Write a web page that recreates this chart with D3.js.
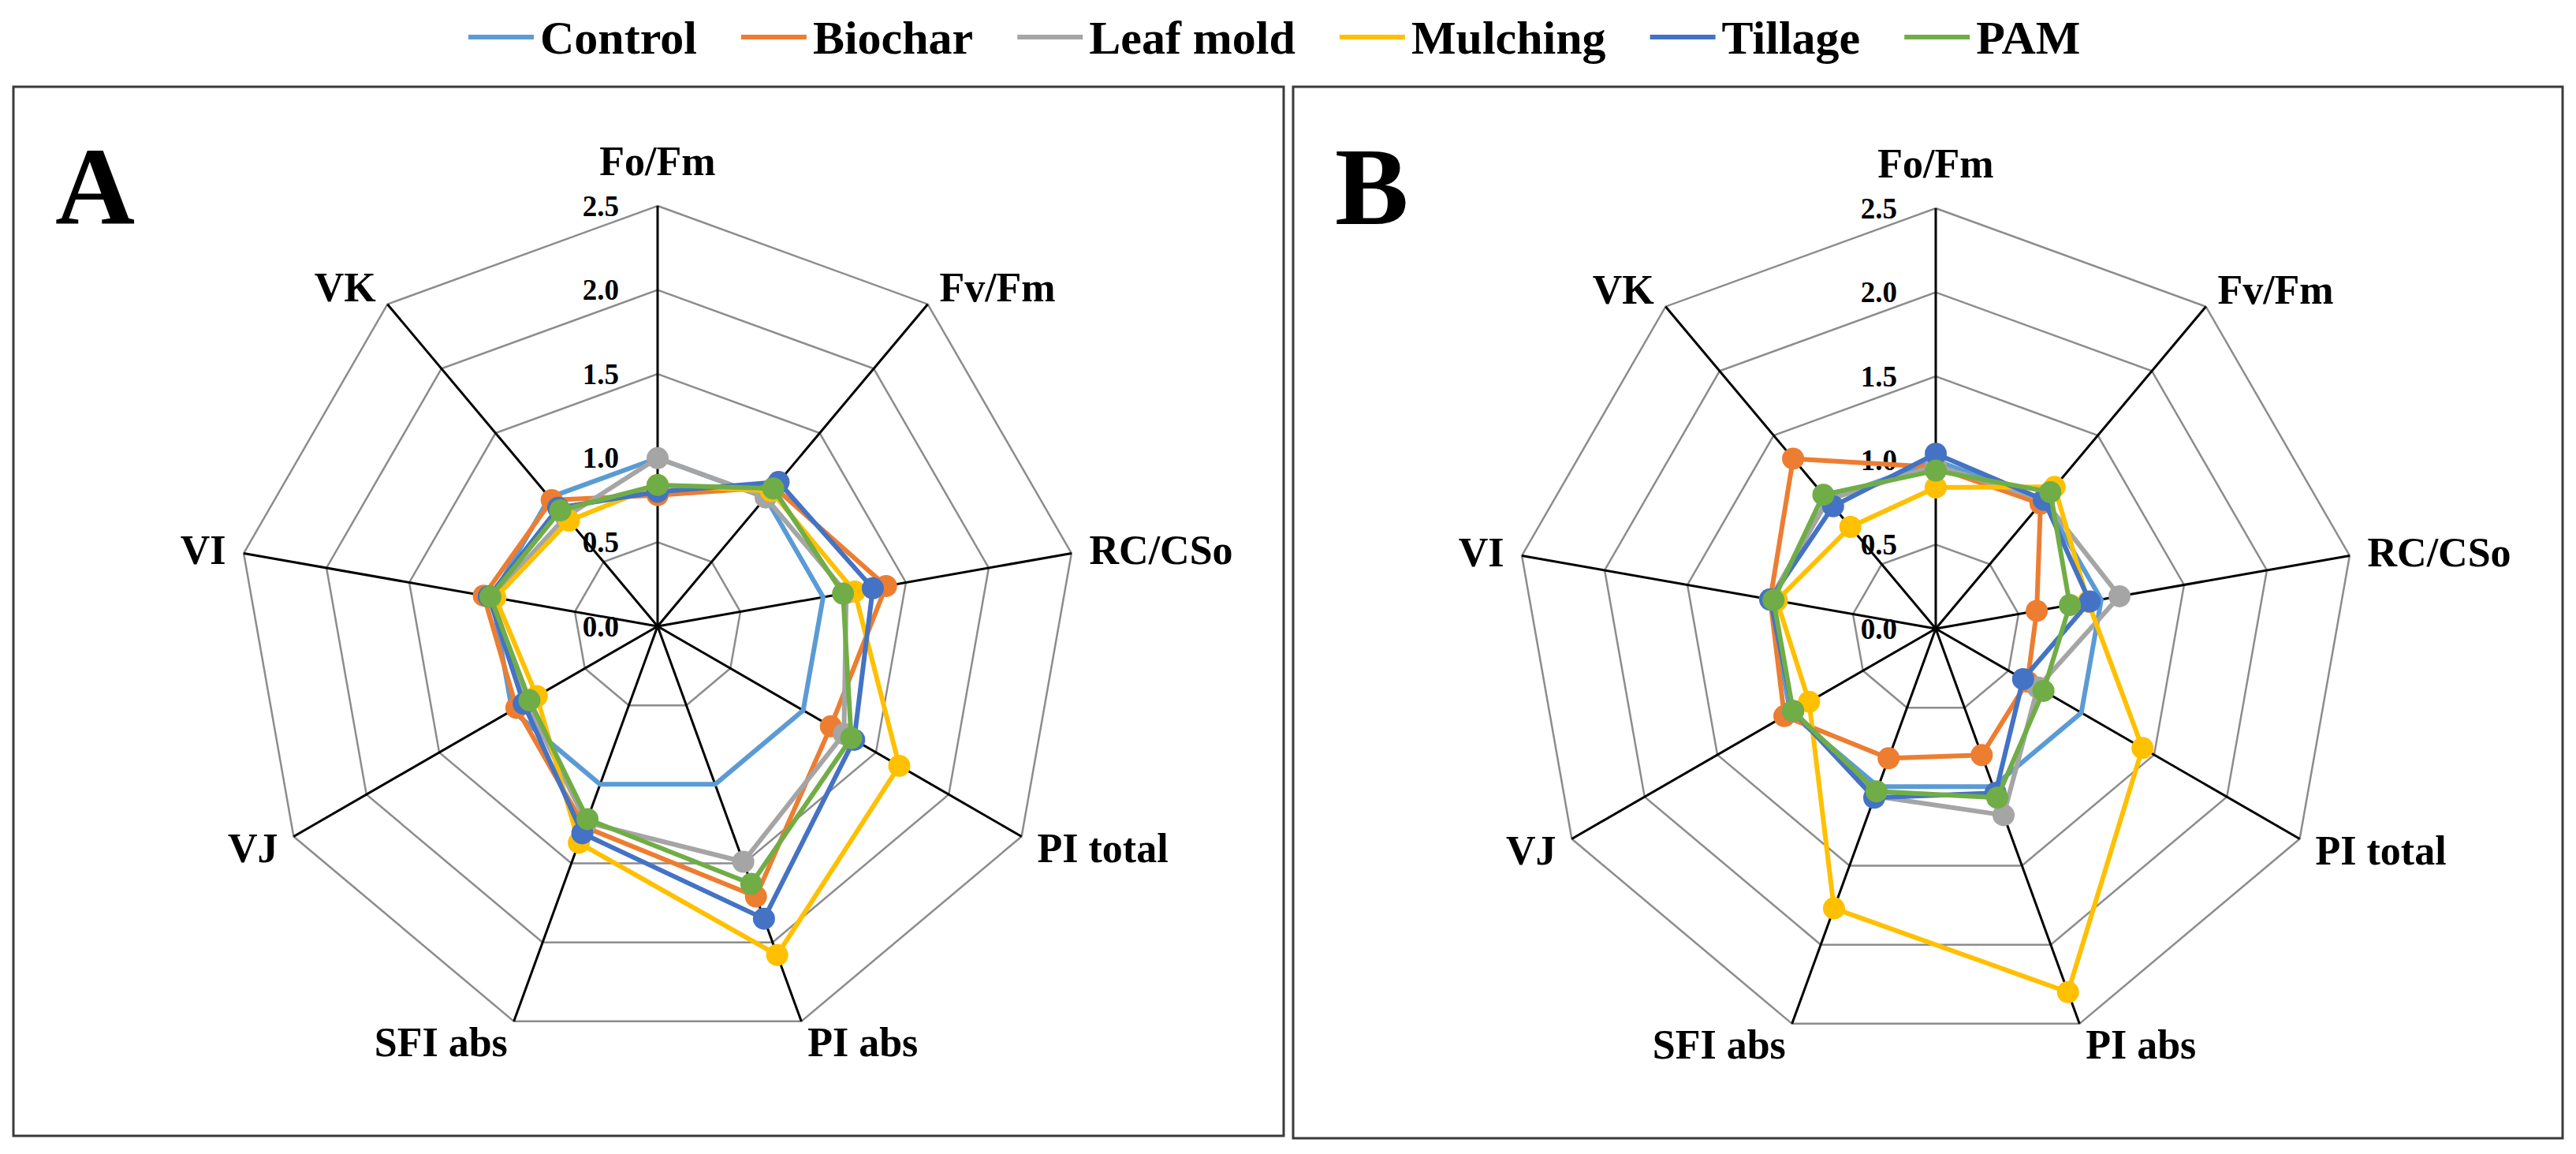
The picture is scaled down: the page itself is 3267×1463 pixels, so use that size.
<!DOCTYPE html>
<html>
<head>
<meta charset="utf-8">
<script src="https://cdn.jsdelivr.net/npm/d3@7"></script>
<style>
  html, body { margin: 0; padding: 0; background: #fff; }
  svg { display: block; }
  text { font-family: "Liberation Serif", "Times New Roman", serif; font-weight: bold; fill: #000; }
</style>
</head>
<body>
<svg id="chart" width="3267" height="1463"></svg>
<script>
// ---------- data ----------
const axes = ["Fo/Fm", "Fv/Fm", "RC/CSo", "PI total", "PI abs", "SFI abs", "VJ", "VI", "VK"];
const seriesNames = ["Control", "Biochar", "Leaf mold", "Mulching", "Tillage", "PAM"];
const seriesColors = ["#5B9BD5", "#ED7D31", "#A5A5A5", "#FFC000", "#4472C4", "#70AD47"];
const tickValues = [0, 0.5, 1.0, 1.5, 2.0, 2.5];
const tickLabels = ["0.0", "0.5", "1.0", "1.5", "2.0", "2.5"];

// Panel A
const controlA  = [1.00, 1.00, 1.00, 1.00, 1.00, 1.00, 1.00, 1.00, 1.00];
const biocharA  = [0.78, 1.08, 1.38, 1.19, 1.71, 1.27, 0.97, 1.05, 0.98];
const leafmoldA = [1.00, 1.00, 1.14, 1.28, 1.49, 1.24, 0.90, 1.00, 0.85];
const mulchingA = [0.84, 1.05, 1.19, 1.66, 2.08, 1.37, 0.83, 0.98, 0.82];
const tillageA  = [0.80, 1.12, 1.30, 1.35, 1.85, 1.31, 0.92, 1.02, 0.92];
const pamA      = [0.84, 1.07, 1.12, 1.33, 1.63, 1.22, 0.88, 1.01, 0.90];

// Panel B
const controlB  = [1.00, 1.00, 1.00, 1.00, 1.00, 1.00, 1.00, 1.00, 1.00];
const biocharB  = [0.96, 0.97, 0.61, 0.63, 0.80, 0.82, 1.04, 1.00, 1.32];
const leafmoldB = [0.97, 1.00, 1.11, 0.70, 1.18, 1.06, 0.98, 1.00, 1.00];
const mulchingB = [0.84, 1.10, 0.92, 1.42, 2.30, 1.77, 0.87, 0.96, 0.79];
const tillageB  = [1.04, 1.00, 0.93, 0.60, 1.04, 1.07, 0.98, 1.00, 0.95];
const pamB      = [0.94, 1.06, 0.81, 0.74, 1.07, 1.03, 0.98, 0.98, 1.04];

const panelA = [controlA, biocharA, leafmoldA, mulchingA, tillageA, pamA];
const panelB = [controlB, biocharB, leafmoldB, mulchingB, tillageB, pamB];

// ---------- drawing ----------
const svg = d3.select("#chart");
const R = 533;
const rScale = d3.scaleLinear().domain([0, 2.5]).range([0, R]);
const angle = i => i * 2 * Math.PI / axes.length;

function drawPanel(box, center, letter, data) {
  // frame
  svg.append("rect")
    .attr("x", box.x).attr("y", box.y).attr("width", box.w).attr("height", box.h)
    .attr("fill", "none").attr("stroke", "#3a3a3a").attr("stroke-width", 3);

  const g = svg.append("g").attr("transform", `translate(${center.x},${center.y})`);

  // panel letter
  svg.append("text").attr("x", box.x + 53).attr("y", box.y + 174)
    .style("font-size", "140px").text(letter);

  // grid rings
  const ringLine = d3.lineRadial().angle((d, i) => angle(i)).radius(d => rScale(d)).curve(d3.curveLinearClosed);
  tickValues.slice(1).forEach(t => {
    g.append("path").attr("d", ringLine(axes.map(() => t)))
      .attr("fill", "none").attr("stroke", "#8c8c8c").attr("stroke-width", 2.5);
  });

  // spokes
  axes.forEach((a, i) => {
    const th = angle(i);
    g.append("line").attr("x1", 0).attr("y1", 0)
      .attr("x2", rScale(2.5) * Math.sin(th)).attr("y2", -rScale(2.5) * Math.cos(th))
      .attr("stroke", "#000").attr("stroke-width", 3);
  });

  // tick labels
  tickValues.forEach((t, k) => {
    g.append("text").attr("x", -49).attr("y", -rScale(t))
      .attr("text-anchor", "end").attr("dominant-baseline", "central")
      .style("font-size", "37px").text(tickLabels[k]);
  });

  // axis labels
  axes.forEach((a, i) => {
    const th = angle(i);
    const s = Math.sin(th), c = Math.cos(th);
    const ex = rScale(2.5) * s, ey = -rScale(2.5) * c;
    let anchor = Math.abs(s) < 0.01 ? "middle" : (s > 0 ? "start" : "end");
    let x = ex + 23 * s;
    let y = c > 0.9 ? ey - 39 : ey + 18 - 28 * c;
    g.append("text").attr("x", x).attr("y", y).attr("text-anchor", anchor)
      .style("font-size", "52px").text(a);
  });

  // series
  const line = d3.lineRadial().angle((d, i) => angle(i)).radius(d => rScale(d)).curve(d3.curveLinearClosed);
  data.forEach((vals, si) => {
    const sg = g.append("g");
    sg.append("path").attr("d", line(vals))
      .attr("fill", "none").attr("stroke", seriesColors[si]).attr("stroke-width", 6)
      .attr("stroke-linejoin", "round");
    if (si > 0) {
      sg.selectAll("circle").data(vals).join("circle")
        .attr("cx", (d, i) => rScale(d) * Math.sin(angle(i)))
        .attr("cy", (d, i) => -rScale(d) * Math.cos(angle(i)))
        .attr("r", 14).attr("fill", seriesColors[si]);
    }
  });
}

drawPanel({x: 17, y: 110, w: 1611, h: 1330}, {x: 834, y: 794}, "A", panelA);
drawPanel({x: 1640, y: 110, w: 1610, h: 1333}, {x: 2455, y: 797}, "B", panelB);

// ---------- legend ----------
const legend = svg.append("g");
let lx = 594;
const ly = 47;
seriesNames.forEach((name, i) => {
  legend.append("line").attr("x1", lx).attr("x2", lx + 83).attr("y1", ly).attr("y2", ly)
    .attr("stroke", seriesColors[i]).attr("stroke-width", 6);
  const t = legend.append("text").attr("x", lx + 91).attr("y", ly + 21)
    .style("font-size", "60px").text(name);
  const w = t.node().getComputedTextLength();
  lx = lx + 91 + w + 56;
});
</script>
</body>
</html>
